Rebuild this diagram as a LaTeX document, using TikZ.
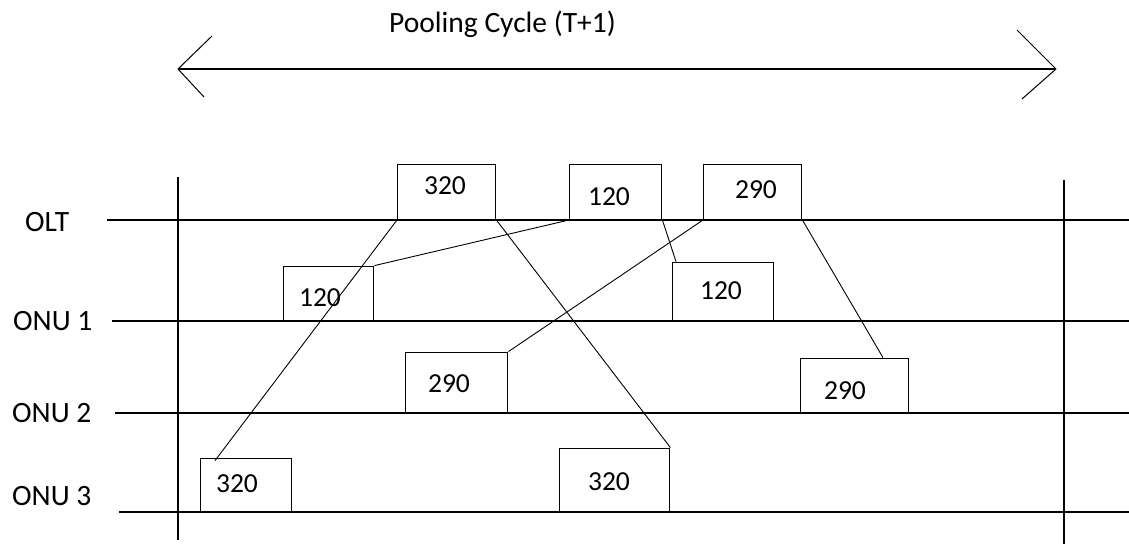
\documentclass[tikz,border=0pt]{standalone}
\usepackage{fontspec}
\setmainfont{Carlito}
\begin{document}
\begin{tikzpicture}[x=1pt,y=-1pt,
  lane/.style={line width=1.4pt},
  slot/.style={draw,line width=1.4pt,anchor=south west,inner sep=0pt},
  num/.style={font=\fontsize{27.5}{31}\selectfont,inner sep=0pt},
  tag/.style={font=\fontsize{29.5}{33}\selectfont,inner sep=0pt,anchor=west},
  link/.style={line width=0.9pt},
  head/.style={line width=1pt}]
\useasboundingbox (0,0) rectangle (1129,544);

% polling cycle span
\node[font=\fontsize{29.5}{33}\selectfont,inner sep=0pt,anchor=base west] (title) at (389,32) {Pooling Cycle (T+1)};
\coordinate (cl) at (178,69);
\coordinate (cr) at (1056,69);
\draw[lane] (cl) -- (cr);
\draw[head] (212,36) -- (cl) -- (204,97);
\draw[head] (1017,30) -- (cr) -- (1022,99);

% cycle boundaries
\draw[lane] (178,177) -- (178,540);
\draw[lane] (1064,180) -- (1064,544);

% timelines
\draw[lane] (107,220) -- (1129,220);
\draw[lane] (112,321) -- (1129,321);
\draw[lane] (115,413) -- (1129,413);
\draw[lane] (119,512) -- (1129,512);

\node[tag] (olt) at (25,222) {OLT};
\node[tag] (onu1) at (13,321) {ONU 1};
\node[tag] (onu2) at (12,413) {ONU 2};
\node[tag] (onu3) at (12,496) {ONU 3};

% grant windows
\node[slot,minimum width=98pt,minimum height=55pt] (A) at (397,220) {};
\node[slot,minimum width=92pt,minimum height=55pt] (B) at (569,220) {};
\node[slot,minimum width=98pt,minimum height=55pt] (C) at (703,220) {};
\node[slot,minimum width=90pt,minimum height=54pt] (D) at (283,321) {};
\node[slot,minimum width=101pt,minimum height=58pt] (E) at (672,321) {};
\node[slot,minimum width=102pt,minimum height=60pt] (F) at (405,413) {};
\node[slot,minimum width=108pt,minimum height=54pt] (G) at (800,413) {};
\node[slot,minimum width=91pt,minimum height=53pt] (H) at (200,512) {};
\node[slot,minimum width=110pt,minimum height=63pt] (I) at (559,512) {};

\node[num] (tA) at (445,186) {320};
\node[num] (tB) at (609,197) {120};
\node[num] (tC) at (756,190) {290};
\node[num] (tD) at (320,298) {120};
\node[num] (tE) at (721,291) {120};
\node[num] (tF) at (449,384) {290};
\node[num] (tG) at (845,391) {290};
\node[num] (tH) at (237,484) {320};
\node[num] (tI) at (609,482) {320};

% transfers between OLT and ONUs
\draw[link] (A.south west) -- ([xshift=15pt,yshift=-3pt]H.north west);
\draw[link] (A.south east) -- (I.north east);
\draw[link] (B.south west) -- (D.north east);
\draw[link] (B.south east) -- ([xshift=4pt]E.north west);
\draw[link] (C.south west) -- (F.north east);
\draw[link] (C.south east) -- ([xshift=83pt]G.north west);
\end{tikzpicture}
\end{document}
